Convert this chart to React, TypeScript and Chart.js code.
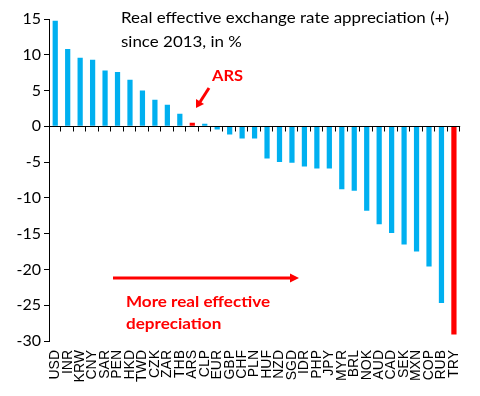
import React, { useEffect, useRef } from "react";
import { Chart, registerables } from "chart.js";

Chart.register(...registerables);

const categories = [
  "USD", "INR", "KRW", "CNY", "SAR", "PEN", "HKD", "TWD", "CZK", "ZAR", "THB",
  "ARS", "CLP", "EUR", "GBP", "CHF", "PLN", "HUF", "NZD", "SGD", "IDR", "PHP",
  "JPY", "MYR", "BRL", "NOK", "AUD", "CAD", "SEK", "MXN", "COP", "RUB", "TRY",
];

const values = [
  14.75, 10.8, 9.6, 9.3, 7.8, 7.6, 6.5, 5.0, 3.7, 3.0, 1.75,
  0.5, 0.35, -0.45, -1.15, -1.7, -1.7, -4.5, -5.0, -5.1, -5.6, -5.9,
  -5.9, -8.8, -9.0, -11.8, -13.7, -14.9, -16.5, -17.5, -19.6, -24.7, -29.1,
];

const highlighted = ["ARS", "TRY"];

const yMin = -30;
const yMax = 15;
const yStep = 5;

const titleLines = ["Real effective exchange rate appreciation (+)", "since 2013, in %"];
const arsLabel = "ARS";
const noteLines = ["More real effective", "depreciation"];

const BLUE = "#00B0F0";
const RED = "#FF0000";

function fitText(ctx: CanvasRenderingContext2D, text: string, x: number, y: number, width: number, font: string) {
  ctx.save();
  ctx.font = font;
  const m = ctx.measureText(text).width;
  const sx = width / m;
  ctx.translate(x, y);
  ctx.scale(sx, 1);
  ctx.fillText(text, 0, 0);
  ctx.restore();
}

const annotationPlugin = {
  id: "annotations",
  afterDraw(chart: any) {
    const { ctx, chartArea, scales } = chart;
    const y = scales.y;
    const y0 = Math.round(y.getPixelForValue(0)) + 0.5;
    ctx.save();
    // zero line
    ctx.strokeStyle = "#000";
    ctx.lineWidth = 1;
    ctx.beginPath();
    ctx.moveTo(chartArea.left, y0);
    ctx.lineTo(chartArea.right, y0);
    const n = categories.length;
    const w = (chartArea.right - chartArea.left) / n;
    for (let k = 1; k <= n; k++) {
      const px = Math.round(chartArea.left + k * w) - 0.5;
      ctx.moveTo(px, y0);
      ctx.lineTo(px, y0 + 5);
    }
    ctx.stroke();

    // title
    ctx.fillStyle = "#000";
    ctx.textBaseline = "middle";
    ctx.textAlign = "left";
    const titleLine1Width = 328;
    ctx.font = "15px Lato";
    const ratio = titleLine1Width / ctx.measureText(titleLines[0]).width;
    fitText(ctx, titleLines[0], 121, 18, titleLine1Width, "15px Lato");
    fitText(ctx, titleLines[1], 121, 42, ctx.measureText(titleLines[1]).width * ratio, "15px Lato");

    // ARS label + arrow
    ctx.fillStyle = RED;
    fitText(ctx, arsLabel, 212, 76, 31, "bold 15px Lato");
    ctx.strokeStyle = RED;
    ctx.lineWidth = 3;
    ctx.beginPath();
    ctx.moveTo(209, 88);
    ctx.lineTo(200, 102);
    ctx.stroke();
    ctx.beginPath();
    ctx.moveTo(196, 108);
    ctx.lineTo(196, 99);
    ctx.lineTo(204, 104);
    ctx.closePath();
    ctx.fill();

    // horizontal arrow
    ctx.beginPath();
    ctx.moveTo(113, 278);
    ctx.lineTo(291, 278);
    ctx.stroke();
    ctx.beginPath();
    ctx.moveTo(299, 278);
    ctx.lineTo(290, 273.5);
    ctx.lineTo(290, 282.5);
    ctx.closePath();
    ctx.fill();

    ctx.font = "bold 15px Lato";
    const r2 = 144 / ctx.measureText(noteLines[0]).width;
    fitText(ctx, noteLines[0], 126, 302, 144, "bold 15px Lato");
    ctx.font = "bold 15px Lato";
    fitText(ctx, noteLines[1], 126, 324, ctx.measureText(noteLines[1]).width * r2, "bold 15px Lato");
    ctx.restore();
  },
};

export default function App() {
  const canvasRef = useRef<HTMLCanvasElement | null>(null);

  useEffect(() => {
    if (!canvasRef.current) return;
    const chart = new Chart(canvasRef.current, {
      type: "bar",
      data: {
        labels: categories,
        datasets: [
          {
            data: values,
            backgroundColor: categories.map((c) => (highlighted.includes(c) ? RED : BLUE)),
            barPercentage: 0.42,
            categoryPercentage: 1,
          },
        ],
      },
      options: {
        responsive: false,
        animation: false,
        layout: { padding: { top: 19, right: 18, bottom: 5, left: 0 } },
        plugins: { legend: { display: false }, tooltip: { enabled: false }, title: { display: false } },
        scales: {
          x: {
            grid: { display: false, drawTicks: false },
            border: { display: false },
            ticks: {
              autoSkip: false,
              maxRotation: 90,
              minRotation: 90,
              padding: 9,
              color: "#000",
              font: { family: "Liberation Sans", size: 14 },
            },
            afterFit: (s: any) => {
              s.height = 50;
            },
          },
          y: {
            min: yMin,
            max: yMax,
            ticks: {
              stepSize: yStep,
              padding: 3,
              color: "#000",
              font: { family: "Lato", size: 16 },
            },
            grid: { drawOnChartArea: false, drawTicks: true, tickLength: 5, color: "#000" },
            border: { display: true, color: "#000" },
            afterFit: (s: any) => {
              s.width = 49;
            },
          },
        },
      },
      plugins: [annotationPlugin],
    });
    return () => chart.destroy();
  }, []);

  return (
    <div style={{ position: "absolute", left: 0, top: 0, width: 480, height: 396, background: "#fff" }}>
      <canvas ref={canvasRef} width={480} height={396} />
    </div>
  );
}
